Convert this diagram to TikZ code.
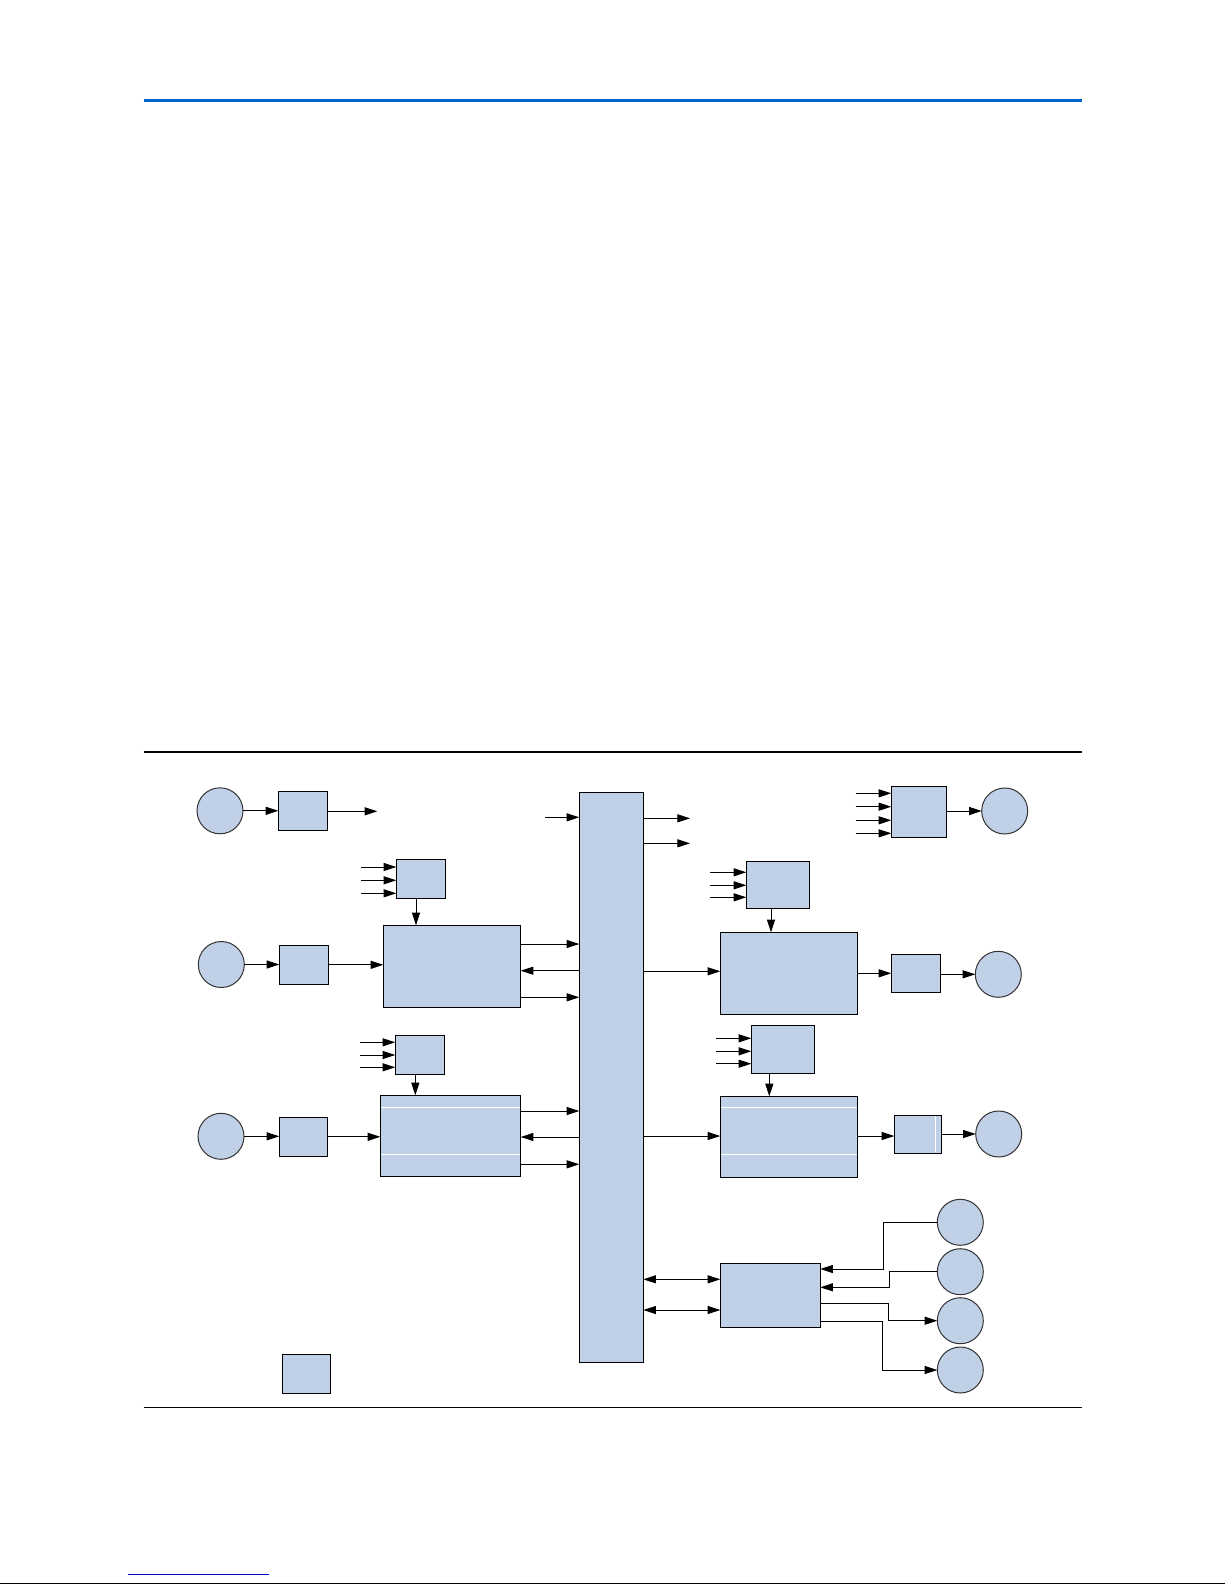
\documentclass[tikz,border=0pt]{standalone}
\usepackage{tikz}
\usetikzlibrary{arrows.meta}
\definecolor{boxfill}{RGB}{192,208,230}
\definecolor{ruleblue}{RGB}{0,102,204}
\definecolor{linkblue}{RGB}{0,0,204}

\begin{document}
\begin{tikzpicture}[x=0.5pt,y=-0.5pt,
    blk/.style 2 args={draw, line width=0.5pt, fill=boxfill, inner sep=0pt, outer sep=0pt,
      minimum width=#1*0.5pt, minimum height=#2*0.5pt},
    src/.style={circle, draw=black!80, line width=0.5pt, fill=boxfill, minimum size=23pt,
      inner sep=0pt, outer sep=0pt},
    arr/.style={line width=0.45pt, -{Triangle[length=6.3pt,width=4pt]}},
    dbl/.style={line width=0.45pt, {Triangle[length=6.3pt,width=4pt]}-{Triangle[length=6.3pt,width=4pt]}},
    sep/.style={white, line width=0.5pt}]
  \useasboundingbox (0,0) rectangle (1225,1585);

  \draw[ruleblue, line width=1.5pt] (143.5,100) -- (1081.5,100);
  \draw[line width=0.6pt] (143.5,752) -- (1081.5,752);
  \draw[line width=0.6pt] (143.5,1407.5) -- (1081.5,1407.5);
  \draw[linkblue, line width=0.5pt] (128,1574) -- (269,1574);
  \draw[line width=0.8pt] (0,1583.5) -- (1225,1583.5);

  \node[blk={64}{570}] (bus) at (611.3,1077.3) {};

  \node[src] (c1) at (220,810.8) {};
  \node[blk={49.4}{39}] (b1) at (303,810.8) {};
  \coordinate (b1out) at (377.3,811.3);

  \node[src] (c2) at (221.3,964.5) {};
  \node[blk={49.4}{39}] (b2) at (304,964.8) {};
  \node[blk={49.4}{39}] (ctlA) at (421,878.8) {};
  \node[blk={137.4}{82}] (blkA) at (452,966.3) {};

  \node[src] (c3) at (221,1136.3) {};
  \node[blk={48.4}{39}] (b3) at (303.5,1136.8) {};
  \node[blk={49}{39}] (ctlC) at (419.8,1054.8) {};
  \node[blk={140.4}{81}] (blkC) at (450.5,1135.8) {};

  \node[blk={55}{51}] (ctlTR) at (918.8,811.8) {};
  \node[src] (cTR) at (1004.7,811) {};

  \node[blk={63}{47}] (ctlB) at (777.8,884.8) {};
  \node[blk={137.4}{82}] (blkB) at (789,973.3) {};
  \node[blk={49}{38}] (outB) at (915.8,973.3) {};
  \node[src] (cB) at (998.3,974.3) {};

  \node[blk={63.4}{48}] (ctlD) at (783,1049.3) {};
  \node[blk={137.4}{81}] (blkD) at (789,1136.8) {};
  \node[blk={47}{38}] (outD) at (917.8,1134.3) {};
  \node[src] (cD) at (998.7,1134) {};

  \node[blk={100}{64}] (blkE) at (770.3,1295.3) {};
  \node[src] (e1) at (960.3,1222.3) {};
  \node[src] (e2) at (960.3,1271.7) {};
  \node[src] (e3) at (960.3,1320.7) {};
  \node[src] (e4) at (960.3,1370) {};

  \node[blk={48}{38.7}] (legend) at (306.3,1373.7) {};

  \draw[sep] ([xshift=0.5pt]blkC.west |- 0,1107.3) -- ([xshift=-0.5pt]blkC.east |- 0,1107.3);
  \draw[sep] ([xshift=0.5pt]blkC.west |- 0,1154.3) -- ([xshift=-0.5pt]blkC.east |- 0,1154.3);
  \draw[sep] ([xshift=0.5pt]blkD.west |- 0,1107.3) -- ([xshift=-0.5pt]blkD.east |- 0,1107.3);
  \draw[sep] ([xshift=0.5pt]blkD.west |- 0,1154.3) -- ([xshift=-0.5pt]blkD.east |- 0,1154.3);
  \draw[sep, line width=0.4pt] ([yshift=-0.5pt]outD.north -| 935.7,0) -- ([yshift=0.5pt]outD.south -| 935.7,0);

  \draw[arr] (c1) -- (c1 -| b1.west);
  \draw[arr] (b1.east |- b1out) -- (b1out);
  \draw[arr] (c2) -- (c2 -| b2.west);
  \draw[arr] (b2) -- (b2 -| blkA.west);
  \draw[arr] (c3) -- (c3 -| b3.west);
  \draw[arr] (b3) -- (b3 -| blkC.west);

  \foreach \y [count=\i] in {867,880.3,893.3} {
    \coordinate (inA\i) at (361,\y);
    \draw[arr] (inA\i) -- (inA\i -| ctlA.west);
  }
  \foreach \y [count=\i] in {1042.3,1055,1067.3} {
    \coordinate (inC\i) at (360,\y);
    \draw[arr] (inC\i) -- (inC\i -| ctlC.west);
  }
  \foreach \y [count=\i] in {793.3,806.7,820.3,833.3} {
    \coordinate (inT\i) at (855.7,\y);
    \draw[arr] (inT\i) -- (inT\i -| ctlTR.west);
  }
  \foreach \y [count=\i] in {872.3,885.3,897.3} {
    \coordinate (inB\i) at (710,\y);
    \draw[arr] (inB\i) -- (inB\i -| ctlB.west);
  }
  \foreach \y [count=\i] in {1038.3,1051.3,1063.7} {
    \coordinate (inD\i) at (716,\y);
    \draw[arr] (inD\i) -- (inD\i -| ctlD.west);
  }

  \draw[arr] (ctlA.south -| 416,0) -- (blkA.north -| 416,0);
  \draw[arr] (ctlC.south -| 415.3,0) -- (blkC.north -| 415.3,0);
  \draw[arr] (ctlB.south -| 771,0) -- (blkB.north -| 771,0);
  \draw[arr] (ctlD.south -| 769.3,0) -- (blkD.north -| 769.3,0);

  \draw[arr] (blkA.east |- 0,944) -- (bus.west |- 0,944);
  \draw[arr] (bus.west |- 0,970.7) -- (blkA.east |- 0,970.7);
  \draw[arr] (blkA.east |- 0,997.3) -- (bus.west |- 0,997.3);
  \draw[arr] (blkC.east |- 0,1111) -- (bus.west |- 0,1111);
  \draw[arr] (bus.west |- 0,1137) -- (blkC.east |- 0,1137);
  \draw[arr] (blkC.east |- 0,1164.3) -- (bus.west |- 0,1164.3);

  \coordinate (busin) at (545,817.3);
  \coordinate (busout1) at (690,818.3);
  \coordinate (busout2) at (690,843.3);
  \draw[arr] (busin) -- (busin -| bus.west);
  \draw[arr] (bus.east |- busout1) -- (busout1);
  \draw[arr] (bus.east |- busout2) -- (busout2);

  \draw[arr] (ctlTR.east |- cTR) -- (cTR);
  \draw[arr] (bus.east |- 0,971.3) -- (blkB.west |- 0,971.3);
  \draw[arr] (blkB.east |- outB) -- (outB);
  \draw[arr] (outB.east |- cB) -- (cB);
  \draw[arr] (bus.east |- 0,1136) -- (blkD.west |- 0,1136);
  \draw[arr] (blkD.east |- 0,1136) -- (outD.west |- 0,1136);
  \draw[arr] (outD.east |- cD) -- (cD);

  \draw[dbl] (bus.east |- 0,1279.3) -- (blkE.west |- 0,1279.3);
  \draw[dbl] (bus.east |- 0,1310) -- (blkE.west |- 0,1310);
  \draw[arr] (e1.west) -- ++(-54,0) |- (blkE.east |- 0,1269);
  \draw[arr] (e2.west) -- ++(-48,0) |- (blkE.east |- 0,1287.3);
  \draw[arr] (blkE.east |- 0,1303.7) -- ++(68,0) |- (e3.west);
  \draw[arr] (blkE.east |- 0,1321.3) -- ++(62,0) |- (e4.west);
\end{tikzpicture}
\end{document}
